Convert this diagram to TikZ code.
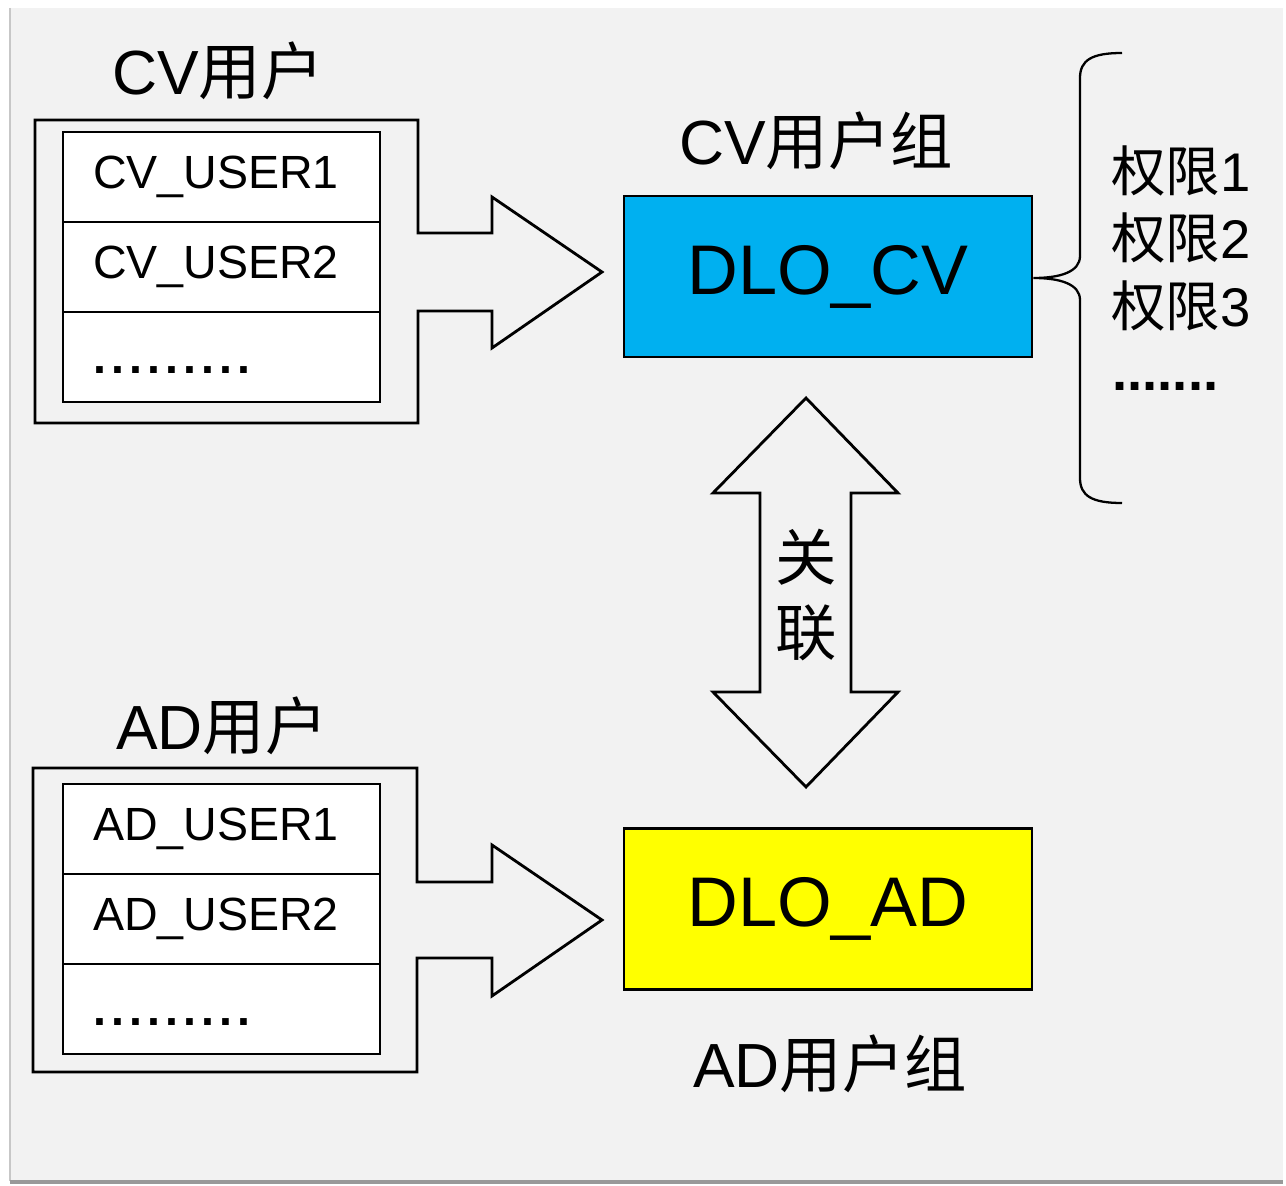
\documentclass[tikz,border=0pt]{standalone}
\usepackage{fontspec}
\setmainfont{Liberation Sans}
\newfontfamily\cjk{Noto Sans CJK SC}
\usepackage{tikz}

\definecolor{panelgray}{HTML}{F2F2F2}
\definecolor{cvblue}{HTML}{00B0F0}
\definecolor{adyellow}{HTML}{FFFF00}

\tikzset{
  outline/.style = {line width = 1.6pt, line join = miter},
  cell/.style = {draw, line width = 1.6pt, fill = white, minimum height = 1.8cm,
                 text width = 5.14cm, inner xsep = 0.6cm, inner ysep = 0pt, align = left,
                 font = \fontsize{26.5}{30}\selectfont},
  group/.style = {draw, line width = 1.6pt, minimum width = 8.16cm, minimum height = 3.22cm,
                  inner sep = 0pt, font = \fontsize{40}{46}\selectfont},
  title/.style = {inner sep = 0pt, font = \fontsize{35.5}{42}\selectfont},
  perm/.style = {inner sep = 0pt, anchor = base west, font = \fontsize{31}{37}\selectfont}
}
\newcommand\userdots{\vphantom{CV\_USER1}\raisebox{-3pt}{\textbf{.\kern2.9pt.\kern2.9pt.\kern2.9pt.\kern2.9pt.\kern2.9pt.\kern2.9pt.\kern2.9pt.\kern2.9pt.}}}

\begin{document}
\begin{tikzpicture}[x = 0.02cm, y = -0.02cm]
\useasboundingbox (0, 0) rectangle (1286, 1186);
% background panel
\fill [white] (0, 0) rectangle (1286, 1186);
\fill [panelgray] (10, 8) rectangle (1283, 1181);
\draw [line width = 1.2pt, color = black!22] (10, 8) -- (10, 1181);
\draw [line width = 2pt, color = black!40] (10, 1182) -- (1283, 1182);

% CV users: container with block arrow
\draw [outline] (35, 120) -- (418, 120) -- (418, 233) -- (492, 233) -- (492, 197) -- (602, 272)
  -- (492, 348) -- (492, 311) -- (418, 311) -- (418, 423) -- (35, 423) -- cycle;
\node [cell] (cvu1) at (221.5, 177) {CV\_USER1};
\node [cell] (cvu2) at (221.5, 267) {CV\_USER2};
\node [cell] (cvu3) at (221.5, 357) {\userdots};
\node [title, anchor = base] (cvtitle) at (218, 95) {CV{\cjk 用户}};

% AD users: container with block arrow
\draw [outline] (33, 768) -- (417, 768) -- (417, 882) -- (492, 882) -- (492, 845) -- (602, 920)
  -- (492, 996) -- (492, 958) -- (417, 958) -- (417, 1072) -- (33, 1072) -- cycle;
\node [cell] (adu1) at (221.5, 829) {AD\_USER1};
\node [cell] (adu2) at (221.5, 919) {AD\_USER2};
\node [cell] (adu3) at (221.5, 1009) {\userdots};
\node [title, anchor = base] (adtitle) at (222, 749) {AD{\cjk 用户}};

% groups
\node [group, fill = cvblue] (dlocv) at (828, 276.5) {DLO\_CV};
\node [group, fill = adyellow] (dload) at (828, 909) {DLO\_AD};
\node [title, anchor = base] (cvgroup) at (816, 165) {CV{\cjk 用户组}};
\node [title, anchor = base] (adgroup) at (830, 1087) {AD{\cjk 用户组}};

% two-way link between the groups
\draw [outline] (806, 398) -- (898, 493) -- (851, 493) -- (851, 692) -- (898, 692) -- (806, 787)
  -- (713, 692) -- (760, 692) -- (760, 493) -- (713, 493) -- cycle;
\node [inner sep = 0pt, align = center, font = \cjk\fontsize{35}{43}\selectfont] (link) at (806, 595) {关\\联};

% permissions brace
\draw [line width = 1.3pt] (1122, 53) .. controls (1092, 53) and (1080, 60) .. (1080, 78) -- (1080, 256)
  .. controls (1080, 272) and (1060, 278) .. (dlocv.east |- 0, 278)
  .. controls (1060, 278) and (1080, 284) .. (1080, 300) -- (1080, 478)
  .. controls (1080, 496) and (1092, 503) .. (1122, 503);
\node [perm] (perm1) at (1111, 192) {{\cjk 权限}1};
\node [perm] (perm2) at (1111, 258) {{\cjk 权限}2};
\node [perm] (perm3) at (1111, 326) {{\cjk 权限}3};
\node [perm, font = \bfseries\fontsize{31}{37}\selectfont] (perm4) at (1112, 390) {.......};
\end{tikzpicture}
\end{document}
